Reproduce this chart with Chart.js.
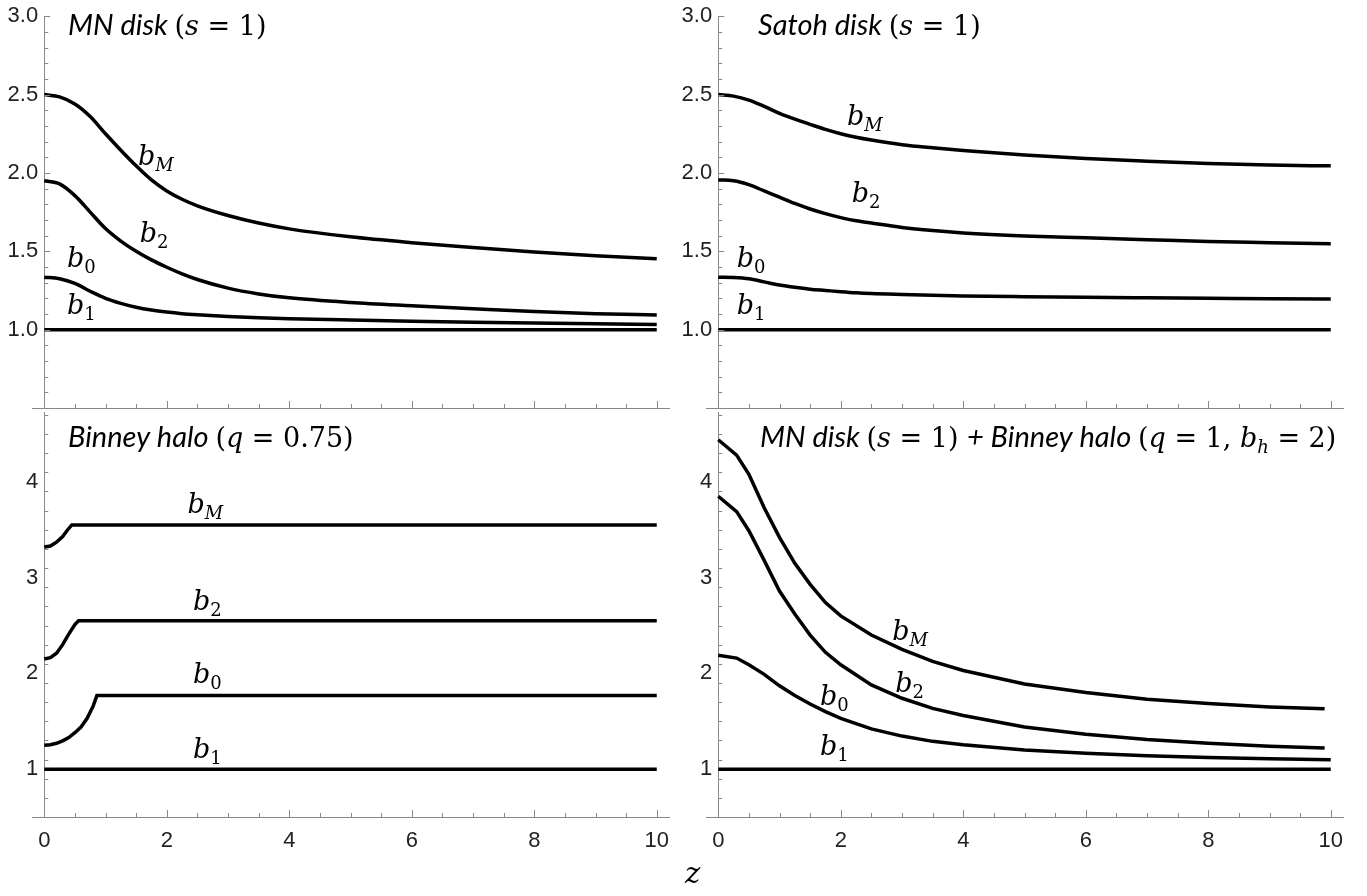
<!DOCTYPE html>
<html>
<head>
<meta charset="utf-8">
<script src="https://cdn.jsdelivr.net/npm/chart.js@4/dist/chart.umd.min.js"></script>
<style>
html, body { margin: 0; padding: 0; background: #fff; }
#wrap { position: relative; width: 1367px; height: 896px; }
#wrap canvas { position: absolute; left: 0; top: 0; }
</style>
</head>
<body>
<div id="wrap">
  <canvas id="p-mn" width="1367" height="896"></canvas>
  <canvas id="p-satoh" width="1367" height="896"></canvas>
  <canvas id="p-halo" width="1367" height="896"></canvas>
  <canvas id="p-mix" width="1367" height="896"></canvas>
</div>
<script>
// b-coefficients vs z, four potentials

const X_TICKS = [0, 2, 4, 6, 8, 10];
const Y_TICKS_DISK = [1.0, 1.5, 2.0, 2.5, 3.0];
const Y_TICKS_HALO = [1, 2, 3, 4];
const FLAT_Z = [0, 10];
const B1 = [1, 1];

// MN disk (s = 1)
const Z_MN = [0, 0.25, 0.5, 0.75, 1, 1.25, 1.5, 1.75, 2, 2.25, 2.5, 3, 3.5, 4, 5, 6, 7, 8, 9, 10];
const MN_BM = [2.50, 2.485, 2.44, 2.36, 2.25, 2.145, 2.045, 1.955, 1.885, 1.832, 1.79, 1.728, 1.68, 1.643, 1.592, 1.555, 1.524, 1.495, 1.471, 1.452];
const MN_B2 = [1.95, 1.93, 1.855, 1.75, 1.645, 1.565, 1.50, 1.445, 1.398, 1.356, 1.32, 1.265, 1.228, 1.203, 1.173, 1.152, 1.133, 1.115, 1.102, 1.093];
const MN_B0 = [1.335, 1.325, 1.295, 1.245, 1.20, 1.168, 1.143, 1.125, 1.112, 1.102, 1.095, 1.084, 1.076, 1.07, 1.061, 1.053, 1.047, 1.042, 1.037, 1.033];

// Satoh disk (s = 1)
const Z_SAT = [0, 0.25, 0.5, 0.75, 1, 1.25, 1.5, 1.75, 2, 2.25, 2.5, 3, 3.5, 4, 5, 6, 7, 8, 9, 10];
const SAT_BM = [2.50, 2.49, 2.465, 2.425, 2.38, 2.343, 2.31, 2.278, 2.25, 2.228, 2.21, 2.18, 2.16, 2.143, 2.115, 2.092, 2.075, 2.06, 2.05, 2.045];
const SAT_B2 = [1.955, 1.95, 1.925, 1.885, 1.845, 1.805, 1.77, 1.74, 1.715, 1.695, 1.68, 1.652, 1.632, 1.617, 1.598, 1.586, 1.574, 1.562, 1.555, 1.548];
const SAT_B0 = [1.335, 1.333, 1.325, 1.305, 1.285, 1.27, 1.258, 1.25, 1.242, 1.235, 1.23, 1.224, 1.219, 1.215, 1.21, 1.206, 1.203, 1.2, 1.197, 1.195];

// Binney halo (q = 0.75)
const HALO_BM_Z = [0, 0.1, 0.2, 0.3, 0.37, 0.45, 10];
const HALO_BM = [3.32, 3.33, 3.37, 3.43, 3.49, 3.55, 3.55];
const HALO_B2_Z = [0, 0.1, 0.2, 0.3, 0.4, 0.5, 0.56, 10];
const HALO_B2 = [2.15, 2.165, 2.21, 2.30, 2.41, 2.51, 2.55, 2.55];
const HALO_B0_Z = [0, 0.1, 0.2, 0.3, 0.4, 0.5, 0.6, 0.7, 0.8, 0.86, 10];
const HALO_B0 = [1.25, 1.255, 1.27, 1.295, 1.33, 1.38, 1.44, 1.53, 1.66, 1.77, 1.77];

// MN disk (s = 1) + Binney halo (q = 1, b_h = 2)
const MIX_Z = [0, 0.3, 0.5, 0.75, 1, 1.25, 1.5, 1.75, 2, 2.5, 3, 3.5, 4, 5, 6, 7, 8, 9, 9.9];
const MIX_BM = [4.44, 4.28, 4.08, 3.73, 3.42, 3.15, 2.93, 2.74, 2.60, 2.40, 2.25, 2.125, 2.03, 1.89, 1.80, 1.73, 1.685, 1.65, 1.63];
const MIX_B2 = [3.85, 3.69, 3.49, 3.18, 2.86, 2.62, 2.40, 2.22, 2.09, 1.88, 1.74, 1.635, 1.56, 1.44, 1.365, 1.31, 1.27, 1.24, 1.22];
const MIX_Z0 = [0, 0.3, 0.5, 0.75, 1, 1.25, 1.5, 1.75, 2, 2.5, 3, 3.5, 4, 5, 6, 7, 8, 9, 10];
const MIX_B0 = [2.19, 2.16, 2.09, 1.99, 1.87, 1.77, 1.68, 1.60, 1.53, 1.42, 1.345, 1.29, 1.255, 1.20, 1.165, 1.14, 1.122, 1.108, 1.097];

const W = 1367, H = 896;
const AXIS = '#888';
const TICK_TEXT = '#222';
const SERIF = '"DejaVu Serif", "Liberation Serif", serif';

// text run styles: w = prose (italic sans), m = math upright, v = math variable,
// s = italic subscript, d = upright subscript
const RUN = {
    w: { font: 'italic 29px Lato, "Open Sans", sans-serif', dy: 0 },
    m: { font: `27px ${SERIF}`, dy: 0 },
    v: { font: `italic 27px ${SERIF}`, dy: 0 },
    s: { font: `italic 18px ${SERIF}`, dy: 6 },
    d: { font: `18px ${SERIF}`, dy: 6 },
};

const bLabel = (sub, style) => [['b', 'v'], [sub, style]];

function drawRuns(ctx, runs, x, y) {
    ctx.textAlign = 'left';
    ctx.textBaseline = 'alphabetic';
    for (const [t, s] of runs) {
        ctx.font = RUN[s].font;
        ctx.fillText(t, x, y + RUN[s].dy);
        x += ctx.measureText(t).width;
    }
}

// Mathematica-style inward tick marks along both axes
const axisTicks = {
    id: 'axisTicks',
    afterDraw(chart) {
        const cfg = chart.options.plugins.axisTicks;
        const { ctx, scales: { x, y } } = chart;
        const x0 = x.getPixelForValue(0);
        const yb = y.getPixelForValue(y.min);
        ctx.save();
        ctx.strokeStyle = AXIS;
        ctx.lineWidth = 1;
        ctx.beginPath();
        for (let k = 1; k <= 20; k++) {
            const v = k * 0.5;
            const len = X_TICKS.includes(v) ? 7 : 4;
            const px = Math.round(x.getPixelForValue(v)) + 0.5;
            ctx.moveTo(px, yb);
            ctx.lineTo(px, yb - len);
        }
        const n = Math.round((cfg.yMax - 0.5) / cfg.yMinor);
        for (let k = 1; k <= n; k++) {
            const v = 0.5 + k * cfg.yMinor;
            if (v > cfg.yMax + 1e-9) break;
            const major = cfg.yTicks.some(t => Math.abs(t - v) < 1e-6);
            const py = Math.round(y.getPixelForValue(v)) + 0.5;
            ctx.moveTo(x0, py);
            ctx.lineTo(x0 + (major ? 6 : 4), py);
        }
        ctx.stroke();
        ctx.restore();
    },
};

const textLayer = {
    id: 'textLayer',
    afterDraw(chart) {
        const cfg = chart.options.plugins.textLayer;
        const { ctx, chartArea, scales: { x, y } } = chart;
        ctx.save();
        ctx.fillStyle = '#000';
        drawRuns(ctx, cfg.title, chartArea.left + cfg.titleAt[0], chartArea.top + cfg.titleAt[1]);
        for (const l of cfg.labels) {
            drawRuns(ctx, l.runs, x.getPixelForValue(l.at[0]), y.getPixelForValue(l.at[1]));
        }
        if (cfg.axisLabel) {
            ctx.font = `italic 29px ${SERIF}`;
            ctx.fillText('z', cfg.axisLabel[0], cfg.axisLabel[1]);
        }
        ctx.restore();
    },
};

function makePanel(id, p) {
    const series = p.series.map(([zs, vs]) => ({
        data: zs.map((z, i) => ({ x: z, y: vs[i] })),
        borderColor: '#000',
        borderWidth: 3.5,
        pointRadius: 0,
        fill: false,
        tension: 0,
        cubicInterpolationMode: p.smooth ? 'monotone' : 'default',
    }));
    const tickFont = { family: '"Liberation Sans", Arial, sans-serif', size: 22 };
    const xh = p.showX ? 50 : 0;
    return new Chart(document.getElementById(id), {
        type: 'line',
        data: { datasets: series },
        options: {
            responsive: false,
            animation: false,
            events: [],
            layout: { padding: { left: p.area[0], top: p.area[1], right: W - p.area[2], bottom: H - p.area[3] - xh } },
            plugins: {
                legend: { display: false },
                tooltip: { enabled: false },
                axisTicks: { yTicks: p.yTicks, yMinor: p.yMinor, yMax: p.yMax },
                textLayer: { title: p.title, titleAt: p.titleAt, labels: p.labels, axisLabel: p.axisLabel },
            },
            scales: {
                x: {
                    type: 'linear', min: -0.2, max: 10.2, position: 'bottom',
                    afterFit: s => { s.height = xh; },
                    afterBuildTicks: s => { s.ticks = X_TICKS.map(v => ({ value: v })); },
                    grid: { display: false, drawTicks: false },
                    border: { display: true, color: AXIS, width: 1 },
                    ticks: { display: p.showX, padding: 11, color: TICK_TEXT, font: tickFont, maxRotation: 0, autoSkip: false, callback: v => String(v) },
                },
                y: {
                    type: 'linear', min: 0.5, max: p.yMax, position: { x: 0 },
                    afterFit: s => { s.width = 0; },
                    afterBuildTicks: s => { s.ticks = p.yTicks.map(v => ({ value: v })); },
                    grid: { display: false, drawTicks: false },
                    border: { display: true, color: AXIS, width: 1 },
                    ticks: { color: TICK_TEXT, font: tickFont, autoSkip: false, callback: v => p.yFmt(v) + ' ' },
                },
            },
        },
        plugins: [axisTicks, textLayer],
    });
}

makePanel('p-mn', {
    area: [32, 13, 669, 408], yMax: 3.0, yTicks: Y_TICKS_DISK, yMinor: 0.1, yFmt: v => v.toFixed(1),
    showX: false, smooth: true,
    series: [[Z_MN, MN_BM], [Z_MN, MN_B2], [Z_MN, MN_B0], [FLAT_Z, B1]],
    title: [['MN disk ', 'w'], ['(', 'm'], ['s', 'v'], [' = 1)', 'm']], titleAt: [36, 19],
    labels: [
        { runs: bLabel('M', 's'), at: [1.53, 2.05] },
        { runs: bLabel('2', 'd'), at: [1.56, 1.558] },
        { runs: bLabel('0', 'd'), at: [0.37, 1.40] },
        { runs: bLabel('1', 'd'), at: [0.37, 1.10] },
    ],
});

makePanel('p-satoh', {
    area: [706, 13, 1343, 408], yMax: 3.0, yTicks: Y_TICKS_DISK, yMinor: 0.1, yFmt: v => v.toFixed(1),
    showX: false, smooth: true,
    series: [[Z_SAT, SAT_BM], [Z_SAT, SAT_B2], [Z_SAT, SAT_B0], [FLAT_Z, B1]],
    title: [['Satoh disk ', 'w'], ['(', 'm'], ['s', 'v'], [' = 1)', 'm']], titleAt: [52, 19],
    labels: [
        { runs: bLabel('M', 's'), at: [2.10, 2.307] },
        { runs: bLabel('2', 'd'), at: [2.18, 1.812] },
        { runs: bLabel('0', 'd'), at: [0.30, 1.40] },
        { runs: bLabel('1', 'd'), at: [0.30, 1.10] },
    ],
});

makePanel('p-halo', {
    area: [32, 412, 669, 817], yMax: 4.73, yTicks: Y_TICKS_HALO, yMinor: 0.2, yFmt: v => String(v),
    showX: true, smooth: false,
    series: [[HALO_BM_Z, HALO_BM], [HALO_B2_Z, HALO_B2], [HALO_B0_Z, HALO_B0], [FLAT_Z, B1]],
    title: [['Binney halo ', 'w'], ['(', 'm'], ['q', 'v'], [' = 0.75)', 'm']], titleAt: [36, 35],
    labels: [
        { runs: bLabel('M', 's'), at: [2.34, 3.675] },
        { runs: bLabel('2', 'd'), at: [2.43, 2.66] },
        { runs: bLabel('0', 'd'), at: [2.43, 1.90] },
        { runs: bLabel('1', 'd'), at: [2.43, 1.115] },
    ],
});

makePanel('p-mix', {
    area: [706, 412, 1343, 817], yMax: 4.73, yTicks: Y_TICKS_HALO, yMinor: 0.2, yFmt: v => String(v),
    showX: true, smooth: false,
    series: [[MIX_Z, MIX_BM], [MIX_Z, MIX_B2], [MIX_Z0, MIX_B0], [FLAT_Z, B1]],
    title: [['MN disk ', 'w'], ['(', 'm'], ['s', 'v'], [' = 1) ', 'm'], ['+ Binney halo ', 'w'], ['(', 'm'], ['q', 'v'], [' = 1, ', 'm'], ['b', 'v'], ['h', 's'], [' = 2)', 'm']],
    titleAt: [54, 35],
    labels: [
        { runs: bLabel('M', 's'), at: [2.84, 2.35] },
        { runs: bLabel('2', 'd'), at: [2.89, 1.81] },
        { runs: bLabel('0', 'd'), at: [1.66, 1.67] },
        { runs: bLabel('1', 'd'), at: [1.66, 1.15] },
    ],
    axisLabel: [685, 883],
});
</script>
</body>
</html>
